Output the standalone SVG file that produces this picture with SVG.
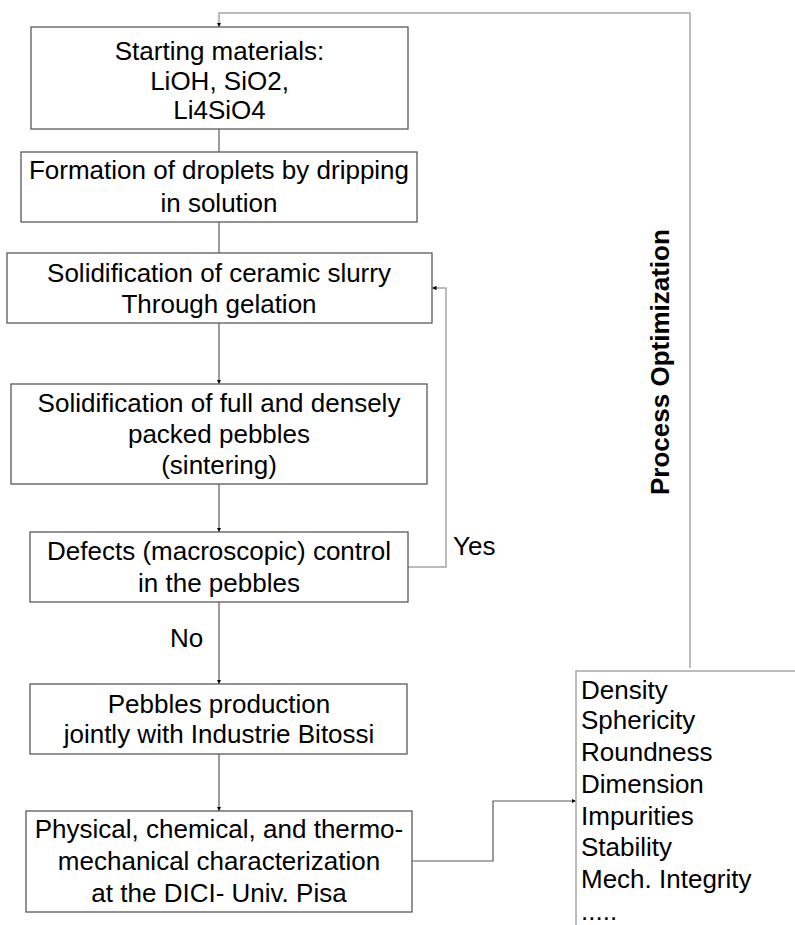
<svg xmlns="http://www.w3.org/2000/svg" width="795" height="925" viewBox="0 0 795 925">
<defs>
<style>
.box{fill:#fff;stroke:#595959;stroke-width:1.3}
.t{font-family:"Liberation Sans",Arial,sans-serif;font-size:26px;fill:#000}
.c{text-anchor:middle}
.ln{fill:none;stroke:#595959;stroke-width:1.2}
.lg{fill:none;stroke:#a6a6a6;stroke-width:1.5}
</style>
<marker id="ah" viewBox="0 0 10 10" refX="10" refY="5" markerWidth="4.5" markerHeight="4.5" orient="auto" markerUnits="userSpaceOnUse">
<path d="M0,0 L10,5 L0,10 z" fill="#000"/>
</marker>
</defs>
<rect width="795" height="925" fill="#fff"/>
<g id="connectors">
<polyline class="lg" points="690,668 690,13 219,13 219,27" marker-end="url(#ah)"/>
<line class="ln" x1="219" y1="129" x2="219" y2="152"/>
<line class="ln" x1="219" y1="222" x2="219" y2="253"/>
<line class="ln" x1="219" y1="323" x2="219" y2="384" marker-end="url(#ah)"/>
<line class="ln" x1="219" y1="484" x2="219" y2="532" marker-end="url(#ah)"/>
<polyline class="lg" points="408,567 446,567 446,288 432,288" marker-end="url(#ah)"/>
<line class="ln" x1="219" y1="602" x2="219" y2="684" marker-end="url(#ah)"/>
<line class="ln" x1="219" y1="754" x2="219" y2="811" marker-end="url(#ah)"/>
<polyline class="ln" points="412,861 493,861 493,801 576,801" marker-end="url(#ah)"/>
<text class="t" x="453" y="555">Yes</text>
<text class="t" x="170" y="647">No</text>
</g>
<g id="n1">
<rect class="box" x="31" y="27" width="377" height="102"/>
<text class="t c" x="219.5" y="60">Starting materials:</text>
<text class="t c" x="219.5" y="90">LiOH, SiO2,</text>
<text class="t c" x="219.5" y="119">Li4SiO4</text>
</g>
<g id="n2">
<rect class="box" x="21" y="152" width="396" height="70"/>
<text class="t c" x="219" y="179">Formation of droplets by dripping</text>
<text class="t c" x="219" y="211.5">in solution</text>
</g>
<g id="n3">
<rect class="box" x="7" y="253" width="425" height="70"/>
<text class="t c" x="219" y="281.5">Solidification of ceramic slurry</text>
<text class="t c" x="219" y="313">Through gelation</text>
</g>
<g id="n4">
<rect class="box" x="11" y="384" width="416" height="100"/>
<text class="t c" x="219" y="411.5">Solidification of full and densely</text>
<text class="t c" x="219" y="443">packed pebbles</text>
<text class="t c" x="219" y="474">(sintering)</text>
</g>
<g id="n5">
<rect class="box" x="30" y="532" width="378" height="70"/>
<text class="t c" x="219" y="560">Defects (macroscopic) control</text>
<text class="t c" x="219" y="591.5">in the pebbles</text>
</g>
<g id="n6">
<rect class="box" x="30" y="684" width="377" height="70"/>
<text class="t c" x="219" y="712.5">Pebbles production</text>
<text class="t c" x="219" y="743">jointly with Industrie Bitossi</text>
</g>
<g id="n7">
<rect class="box" x="26" y="811" width="386" height="101"/>
<text class="t c" x="219" y="838">Physical, chemical, and thermo-</text>
<text class="t c" x="219" y="870">mechanical characterization</text>
<text class="t c" x="219" y="901.5">at the DICI- Univ. Pisa</text>
</g>
<g id="n8">
<polyline class="lg" points="576,930 576,671 800,671"/>
<text class="t" x="581" y="699">Density</text>
<text class="t" x="581" y="729">Sphericity</text>
<text class="t" x="581" y="761">Roundness</text>
<text class="t" x="581" y="793">Dimension</text>
<text class="t" x="581" y="825">Impurities</text>
<text class="t" x="581" y="856">Stability</text>
<text class="t" x="581" y="888">Mech. Integrity</text>
<text class="t" x="581" y="920">.....</text>
</g>
<g id="label">
<text class="t" font-weight="bold" transform="translate(669,495) rotate(-90)">Process Optimization</text>
</g>
</svg>
